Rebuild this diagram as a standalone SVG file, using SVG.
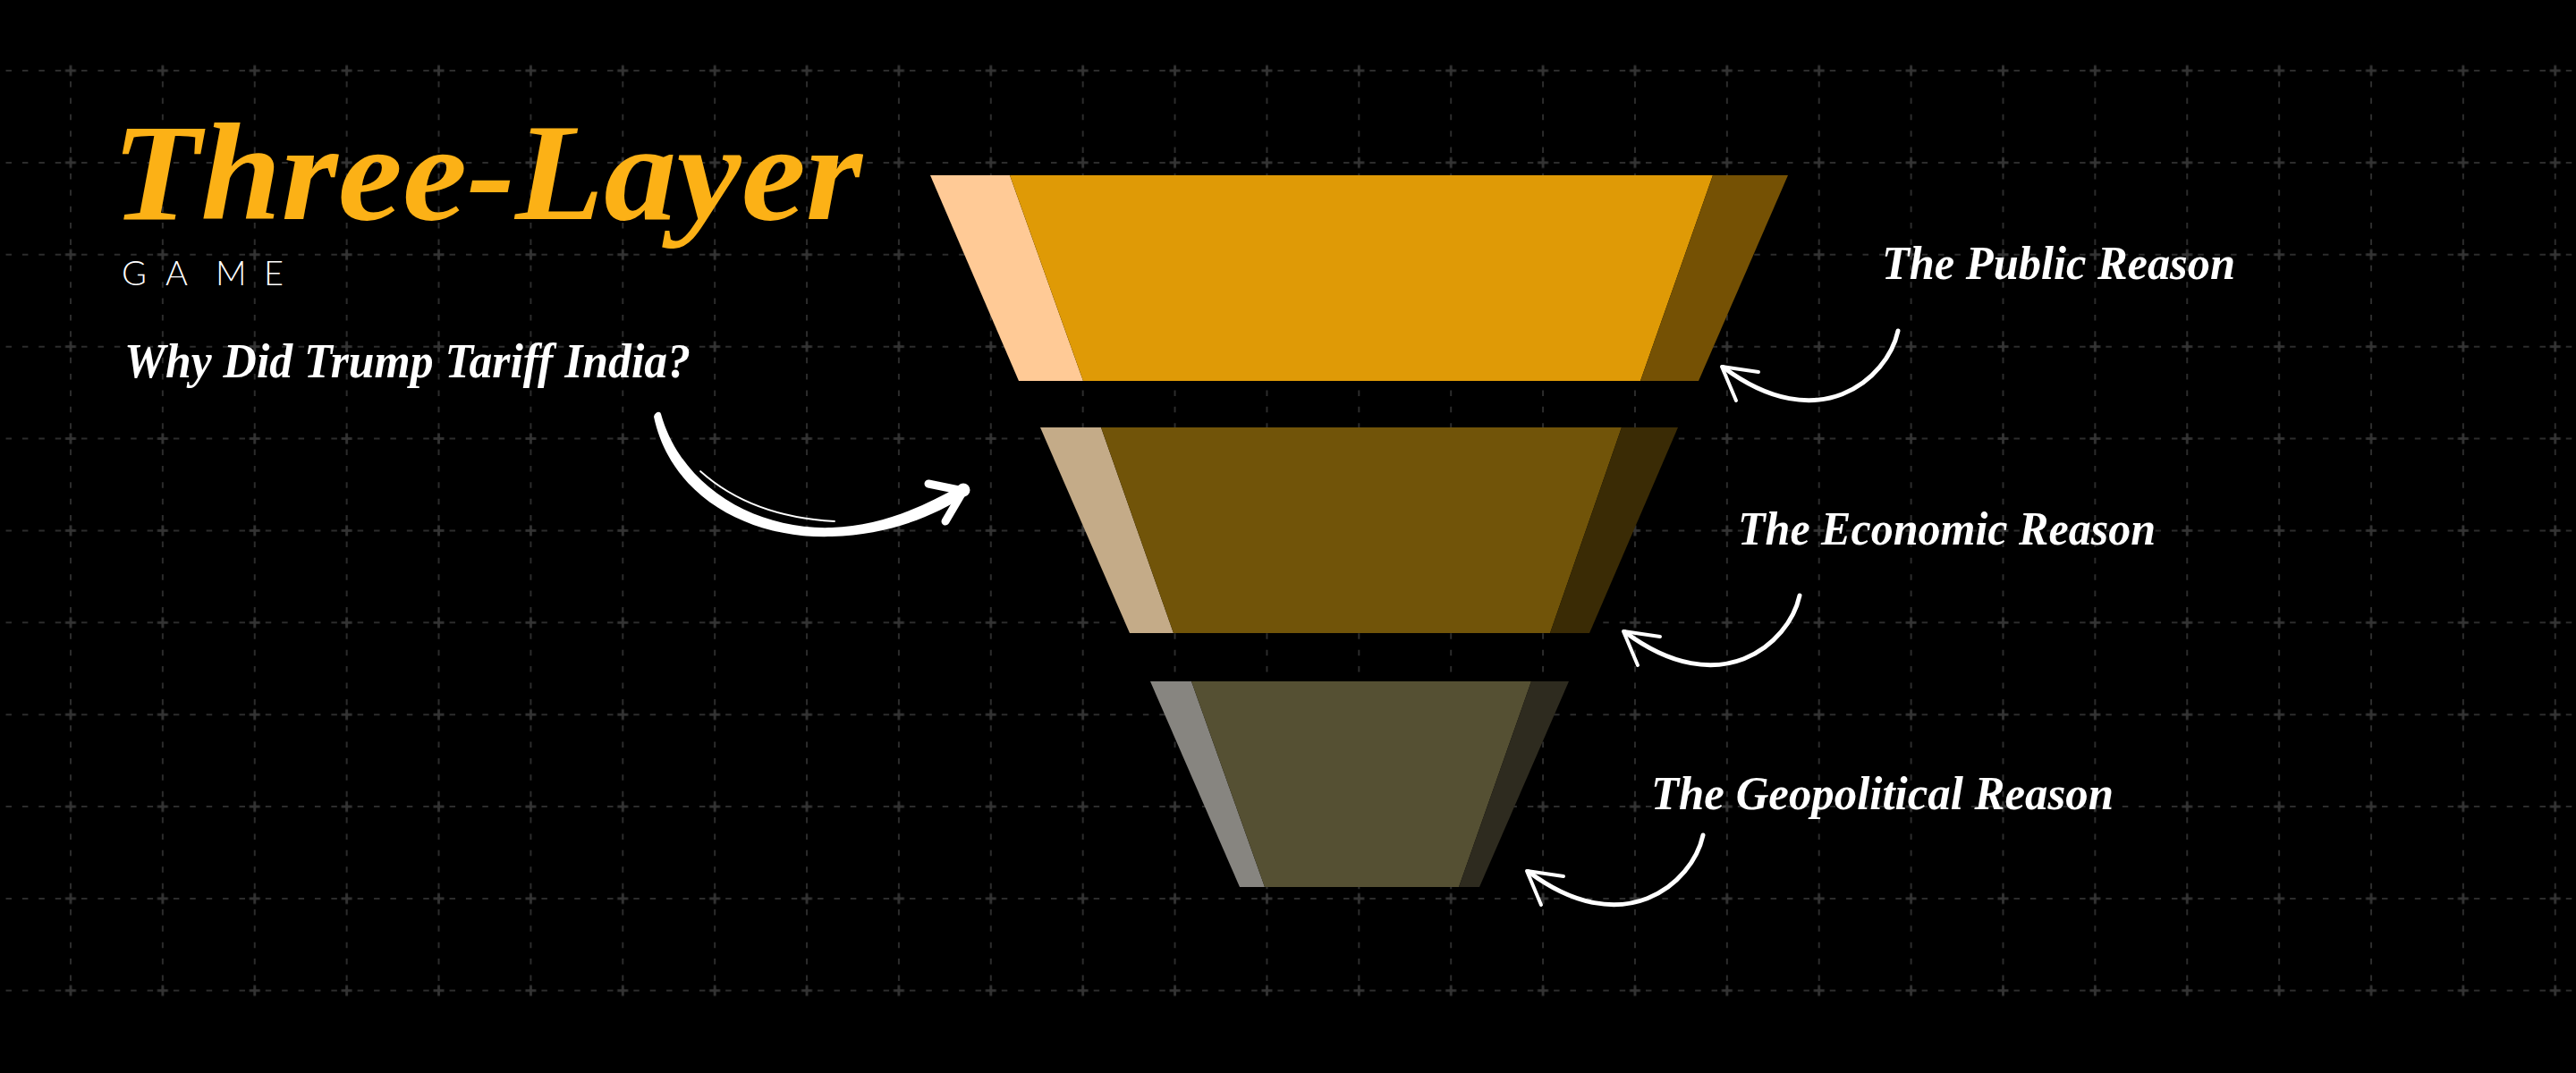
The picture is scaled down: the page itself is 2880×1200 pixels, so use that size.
<svg xmlns="http://www.w3.org/2000/svg" width="2880" height="1200" viewBox="0 0 2880 1200">
<style>
.gl{stroke:#2c2c2c;stroke-width:2;fill:none;stroke-dasharray:6.5 11.9 6.5 11.9 6.5 11.9 6.5 11.9 6.5 22.78}
.ttl{font-family:"Liberation Serif","Times New Roman",serif;font-style:italic;font-weight:bold}
.lbl{font-family:"Liberation Serif","Times New Roman",serif;font-style:italic;font-weight:bold;font-size:52px;fill:#ffffff}
.sa{fill:none;stroke:#ffffff;stroke-linecap:round;stroke-linejoin:round}
</style>
<defs>
<pattern id="cross" patternUnits="userSpaceOnUse" x="27.56" y="27.56" width="102.88" height="102.88">
<rect x="45.44" y="50.04" width="12" height="2.8" fill="#343434"/>
<rect x="50.04" y="45.44" width="2.8" height="12" fill="#343434"/>
</pattern>
<g id="smallArrow">
<path class="sa" stroke-width="5" d="M197,-40 C185,15 108,80 2,1"/>
<path class="sa" stroke-width="4" d="M41,6 L0,0 L16,38"/>
</g>
</defs>
<rect x="0" y="0" width="2880" height="1200" fill="#000000"/>
<g id="grid">
<path class="gl" d="M-11.88,79H2880 M-11.88,181.88H2880 M-11.88,284.76H2880 M-11.88,387.64H2880 M-11.88,490.52H2880 M-11.88,593.4H2880 M-11.88,696.28H2880 M-11.88,799.16H2880 M-11.88,902.04H2880 M-11.88,1004.92H2880 M-11.88,1107.8H2880"/>
<path class="gl" d="M79,91V1108 M181.88,91V1108 M284.76,91V1108 M387.64,91V1108 M490.52,91V1108 M593.4,91V1108 M696.28,91V1108 M799.16,91V1108 M902.04,91V1108 M1004.92,91V1108 M1107.8,91V1108 M1210.68,91V1108 M1313.56,91V1108 M1416.44,91V1108 M1519.32,91V1108 M1622.2,91V1108 M1725.08,91V1108 M1827.96,91V1108 M1930.84,91V1108 M2033.72,91V1108 M2136.6,91V1108 M2239.48,91V1108 M2342.36,91V1108 M2445.24,91V1108 M2548.12,91V1108 M2651,91V1108 M2753.88,91V1108 M2856.76,91V1108"/>
<rect x="27.56" y="27.56" width="2880.64" height="1131.68" fill="url(#cross)"/>
</g>
<g id="title">
<text class="ttl" x="125" y="245" font-size="155" fill="#FCB116" textLength="839" lengthAdjust="spacingAndGlyphs">Three-Layer</text>
<text x="136 185 241 295" y="319" font-family="Lato,'Open Sans','Liberation Sans',sans-serif" font-weight="300" font-size="38" fill="#ffffff">GAME</text>
<text class="ttl" x="139" y="422" font-size="54" fill="#ffffff" textLength="633" lengthAdjust="spacingAndGlyphs">Why Did Trump Tariff India?</text>
</g>
<g id="layer-public">
<polygon points="1040,196 1129,196 1211,426 1139,426" fill="#FFCA96"/>
<polygon points="1129,196 1915,196 1834,426 1211,426" fill="#DF9A06"/>
<polygon points="1915,196 1999,196 1899,426 1834,426" fill="#755104"/>
</g>
<g id="layer-economic">
<polygon points="1163,478 1231,478 1312,708 1263,708" fill="#C4AB88"/>
<polygon points="1231,478 1813,478 1733,708 1312,708" fill="#715409"/>
<polygon points="1813,478 1876,478 1777,708 1733,708" fill="#3A2B05"/>
</g>
<g id="layer-geopolitical">
<polygon points="1286,762 1332,762 1414,992 1386,992" fill="#878580"/>
<polygon points="1332,762 1712,762 1631,992 1414,992" fill="#555033"/>
<polygon points="1712,762 1754,762 1654,992 1631,992" fill="#2E2B1F"/>
</g>
<g id="label-public"><text class="lbl" x="2104" y="312" textLength="395" lengthAdjust="spacingAndGlyphs">The Public Reason</text></g>
<g id="label-economic"><text class="lbl" x="1943" y="609" textLength="467" lengthAdjust="spacingAndGlyphs">The Economic Reason</text></g>
<g id="label-geopolitical"><text class="lbl" x="1846" y="905" textLength="517" lengthAdjust="spacingAndGlyphs">The Geopolitical Reason</text></g>
<g id="connectors">
<g id="big-arrow">
<path fill="#ffffff" d="M731,466 C750,556 838,603 930,600 C990,598 1040,580 1082,553 L1072,544 C1030,568 983,588 930,590 C845,593 762,545 739,463 C738,459 732,461 731,466 Z"/>
<path fill="none" stroke="#ffffff" stroke-width="9" stroke-linecap="round" stroke-linejoin="round" d="M1038,541 L1077,549 L1057,583"/>
<circle cx="1077" cy="548" r="7.5" fill="#ffffff"/>
<path fill="none" stroke="#ffffff" stroke-width="1.8" stroke-linecap="round" d="M783,527 Q840,578 933,583"/>
</g>
<use href="#smallArrow" transform="translate(1925,410)"/>
<use href="#smallArrow" transform="translate(1815,706)"/>
<use href="#smallArrow" transform="translate(1707,974)"/>
</g>
</svg>
